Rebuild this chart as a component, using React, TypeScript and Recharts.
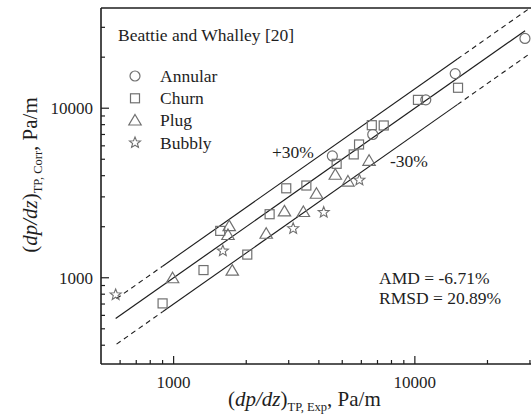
import React from 'react';
import { ComposedChart, XAxis, YAxis, Scatter, ReferenceLine } from 'recharts';

const FONT = '"Liberation Serif", "Times New Roman", Times, serif';
const INK = '#1e1e1e';
const MARK = '#707070';

// ---- data (experimental vs correlated pressure gradient, Pa/m) ----
const annularExp = [28600, 14700, 11100, 6690, 4550];
const annularCorr = [25800, 16000, 11200, 7000, 5230];

const churnExp = [15100, 10300, 6630, 7430, 5870, 5580, 4740, 3550, 2930, 2500, 1560, 2020, 1330, 900];
const churnCorr = [13200, 11200, 7940, 7910, 6110, 5340, 4700, 3500, 3370, 2370, 1890, 1370, 1110, 706];

const plugExp = [6460, 4680, 5280, 3910, 2880, 3450, 2420, 1700, 1680, 1750, 990];
const plugCorr = [4930, 4080, 3720, 3150, 2480, 2460, 1830, 2030, 1800, 1110, 1000];

const bubblyExp = [5890, 4190, 3130, 1600, 575];
const bubblyCorr = [3770, 2430, 1950, 1440, 794];

const seriesNames = ['Annular', 'Churn', 'Plug', 'Bubbly'];

// parity line and +/-30% band
const parityRange = [575, 28640];
const bandFactors = [1.3, 0.7];
const bandDashLeft = [580, 900];
const bandSolid = [900, 15000];
const bandDashRight = [15000, 30000];

// axes
const xDomain = [500, 30300];
const yDomain = [310, 39000];
const xTicks = [600, 700, 800, 900, 1000, 2000, 3000, 4000, 5000, 6000, 7000, 8000, 9000, 10000, 20000, 30000];
const yTicks = [400, 500, 600, 700, 800, 900, 1000, 2000, 3000, 4000, 5000, 6000, 7000, 8000, 9000, 10000, 20000, 30000];
const majorTicks = [1000, 10000];

const zip = (xs: number[], ys: number[]) => xs.map((x, i) => ({ x, y: ys[i] }));

// ---- marker shapes ----
const CircleMark = (p: any) => (
  <circle cx={p.cx} cy={p.cy} r={5} fill="none" stroke={MARK} strokeWidth={1.2} />
);
const SquareMark = (p: any) => (
  <rect x={p.cx - 4.5} y={p.cy - 4.5} width={9} height={9} fill="none" stroke={MARK} strokeWidth={1.2} />
);
const TriangleMark = (p: any) => (
  <polygon
    points={`${p.cx},${p.cy - 5.5} ${p.cx + 6.2},${p.cy + 5} ${p.cx - 6.2},${p.cy + 5}`}
    fill="none"
    stroke={MARK}
    strokeWidth={1.2}
  />
);
const StarMark = (p: any) => {
  const pts: string[] = [];
  for (let i = 0; i < 10; i++) {
    const r = i % 2 === 0 ? 5.8 : 2.5;
    const a = -Math.PI / 2 + (i * Math.PI) / 5;
    pts.push(`${p.cx + r * Math.cos(a)},${p.cy + r * Math.sin(a)}`);
  }
  return <polygon points={pts.join(' ')} fill="none" stroke={MARK} strokeWidth={1.1} />;
};
const shapes = [CircleMark, SquareMark, TriangleMark, StarMark];

// ---- ticks ----
const XTickBottom = (p: any) => {
  const major = majorTicks.includes(p.payload.value);
  return (
    <g>
      <line x1={p.x} y1={p.y} x2={p.x} y2={p.y - (major ? 8 : 4)} stroke={INK} strokeWidth={1.2} />
      {major && (
        <text x={p.x} y={p.y + 23.5} textAnchor="middle" fontSize={17} fontFamily={FONT} fill={INK}>
          {p.payload.value}
        </text>
      )}
    </g>
  );
};
const XTickTop = (p: any) => {
  const major = majorTicks.includes(p.payload.value);
  return <line x1={p.x} y1={p.y} x2={p.x} y2={p.y + (major ? 8 : 4)} stroke={INK} strokeWidth={1.2} />;
};
const YTick = (p: any) => {
  const major = majorTicks.includes(p.payload.value);
  return (
    <g>
      <line x1={p.x} y1={p.y} x2={p.x + (major ? 8 : 4)} y2={p.y} stroke={INK} strokeWidth={1.2} />
      {major && (
        <text x={p.x - 8} y={p.y + 6} textAnchor="end" fontSize={17} fontFamily={FONT} fill={INK}>
          {p.payload.value}
        </text>
      )}
    </g>
  );
};

const seg = (a: number, b: number, f: number) => [
  { x: a, y: a * f },
  { x: b, y: b * f },
];

const legendRows = [76, 98.3, 120, 142.7];

export default function App() {
  const seriesData = [
    zip(annularExp, annularCorr),
    zip(churnExp, churnCorr),
    zip(plugExp, plugCorr),
    zip(bubblyExp, bubblyCorr),
  ];
  return (
    <div style={{ position: 'absolute', left: 0, top: 0, width: 531, height: 414, overflow: 'hidden', background: '#fff' }}>
      <ComposedChart width={531} height={414} margin={{ top: 0, right: 0, bottom: 0, left: 0 }}>
        <XAxis
          dataKey="x"
          type="number"
          scale="log"
          domain={xDomain}
          allowDataOverflow
          ticks={xTicks}
          interval={0}
          tickSize={0}
          tickMargin={0}
          height={50}
          tick={XTickBottom}
          tickLine={false}
          axisLine={{ stroke: INK, strokeWidth: 1.6 }}
        />
        <XAxis
          xAxisId="top"
          orientation="top"
          type="number"
          scale="log"
          domain={xDomain}
          allowDataOverflow
          ticks={xTicks}
          interval={0}
          tickSize={0}
          tickMargin={0}
          height={8}
          tick={XTickTop}
          tickLine={false}
          axisLine={{ stroke: INK, strokeWidth: 1.6 }}
        />
        <YAxis
          dataKey="y"
          type="number"
          scale="log"
          domain={yDomain}
          allowDataOverflow
          ticks={yTicks}
          interval={0}
          tickSize={0}
          tickMargin={0}
          width={101}
          tick={YTick}
          tickLine={false}
          axisLine={{ stroke: INK, strokeWidth: 1.6 }}
        />

        <ReferenceLine segment={[{ x: parityRange[0], y: parityRange[0] }, { x: parityRange[1], y: parityRange[1] }]} stroke={INK} strokeWidth={1.2} ifOverflow="visible" />
        {bandFactors.map((f) => (
          <ReferenceLine key={'s' + f} segment={seg(bandSolid[0], bandSolid[1], f)} stroke={INK} strokeWidth={1.1} ifOverflow="visible" />
        ))}
        {bandFactors.map((f) => (
          <ReferenceLine key={'l' + f} segment={seg(bandDashLeft[0], bandDashLeft[1], f)} stroke={INK} strokeWidth={1.1} strokeDasharray="5 4" ifOverflow="visible" />
        ))}
        {bandFactors.map((f) => (
          <ReferenceLine key={'r' + f} segment={seg(bandDashRight[0], bandDashRight[1], f)} stroke={INK} strokeWidth={1.1} strokeDasharray="5 4" ifOverflow="visible" />
        ))}

        {seriesData.map((d, i) => (
          <Scatter key={seriesNames[i]} name={seriesNames[i]} data={d} shape={shapes[i]} isAnimationActive={false} />
        ))}

        <text x={118} y={41} fontSize={17.5} fontFamily={FONT} fill={INK}>Beattie and Whalley [20]</text>
        {seriesNames.map((n, i) => {
          const S = shapes[i];
          return (
            <g key={n}>
              <S cx={135} cy={legendRows[i]} />
              <text x={160} y={legendRows[i] + 6} fontSize={17.5} fontFamily={FONT} fill={INK}>{n}</text>
            </g>
          );
        })}
        <text x={272} y={158} fontSize={17.5} fontFamily={FONT} fill={INK}>+30%</text>
        <text x={390} y={166.5} fontSize={17.5} fontFamily={FONT} fill={INK}>-30%</text>
        <text x={379} y={284} fontSize={17.5} fontFamily={FONT} fill={INK}>AMD = -6.71%</text>
        <text x={379} y={304} fontSize={17.5} fontFamily={FONT} fill={INK}>RMSD = 20.89%</text>

        <text x={228} y={406} fontSize={21} fontFamily={FONT} fill={INK}>
          <tspan>(</tspan>
          <tspan fontStyle="italic">dp/dz</tspan>
          <tspan>)</tspan>
          <tspan fontSize={12.5} dy={4.5}>TP, Exp</tspan>
          <tspan dy={-4.5}>, Pa/m</tspan>
        </text>
        <text transform="translate(37,175) rotate(-90)" textAnchor="middle" fontSize={21} fontFamily={FONT} fill={INK}>
          <tspan>(</tspan>
          <tspan fontStyle="italic">dp/dz</tspan>
          <tspan>)</tspan>
          <tspan fontSize={12.5} dy={5}>TP, Corr</tspan>
          <tspan dy={-5}>, Pa/m</tspan>
        </text>
      </ComposedChart>
    </div>
  );
}
